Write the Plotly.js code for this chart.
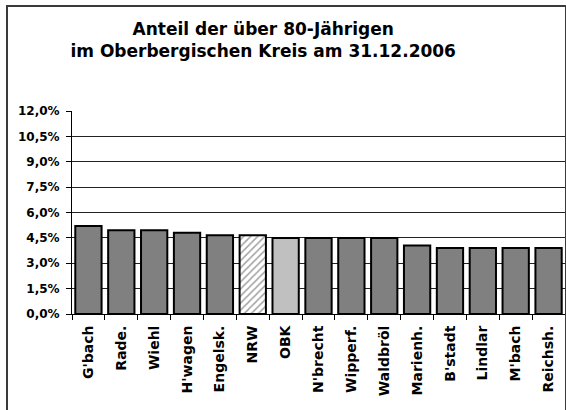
<!DOCTYPE html>
<html>
<head>
<meta charset="utf-8">
<script src="https://cdn.plot.ly/plotly-3.0.1.min.js"></script>
<style>
html,body{margin:0;padding:0;background:#fff;}
#wrap{position:relative;width:566px;height:410px;overflow:hidden;}
#chart{width:566px;height:410px;}
#frame{position:absolute;left:6px;top:5px;width:557px;height:420px;border:2px solid #3a3a3a;pointer-events:none;}
</style>
</head>
<body>
<div id="wrap"><div id="chart"></div><div id="frame"></div></div>
<script>
const categories = ["G'bach","Rade.","Wiehl","H'wagen","Engelsk.","NRW","OBK","N'brecht","Wipperf.","Waldbröl","Marienh.","B'stadt","Lindlar","M'bach","Reichsh."];
const shares = [0.052,0.0495,0.0495,0.048,0.0465,0.0465,0.045,0.045,0.045,0.045,0.0405,0.039,0.039,0.039,0.039];
const yTicks = [0,0.015,0.03,0.045,0.06,0.075,0.09,0.105,0.12];
const titleText = "Anteil der über 80-Jährigen<br>im Oberbergischen Kreis am 31.12.2006";

const fillColors = categories.map(c => c === "OBK" ? "#c0c0c0" : (c === "NRW" ? "#ffffff" : "#808080"));
const patternShapes = categories.map(c => c === "NRW" ? "/" : "");

const font = "Verdana, 'DejaVu Sans', sans-serif";
Plotly.newPlot("chart", [{
  type: "bar",
  x: categories,
  y: shares,
  width: 0.8,
  marker: {
    color: fillColors,
    line: {color: "#000", width: 2},
    pattern: {shape: patternShapes, fillmode: "overlay", size: 5, solidity: 0.3}
  },
  hoverinfo: "skip"
}], {
  width: 566, height: 410,
  margin: {l: 72, r: 1, t: 111, b: 96},
  paper_bgcolor: "#fff", plot_bgcolor: "#fff",
  separators: ",.",
  showlegend: false,
  title: {text: titleText, x: 0.465, xref: "container", xanchor: "center", y: 0.915, yanchor: "top",
          font: {family: font, size: 17, color: "#000", weight: "bold"}},
  xaxis: {
    type: "category", tickangle: -90, tickson: "boundaries",
    ticks: "outside", ticklen: 5, tickcolor: "#000",
    showline: true, linecolor: "#000", linewidth: 1,
    ticklabelstandoff: 5,
    tickfont: {family: font, size: 14, color: "#000", weight: "bold"},
    showgrid: false, fixedrange: true
  },
  yaxis: {
    range: [0, 0.12], tickvals: yTicks, tickformat: ".1%",
    ticks: "outside", ticklen: 5, tickcolor: "#000",
    showline: true, linecolor: "#000", linewidth: 1,
    showgrid: true, gridcolor: "#222", gridwidth: 1,
    zeroline: false, ticklabelstandoff: 4,
    tickfont: {family: font, size: 12, color: "#000", weight: "bold"},
    fixedrange: true
  }
}, {displayModeBar: false, staticPlot: true});
</script>
</body>
</html>
